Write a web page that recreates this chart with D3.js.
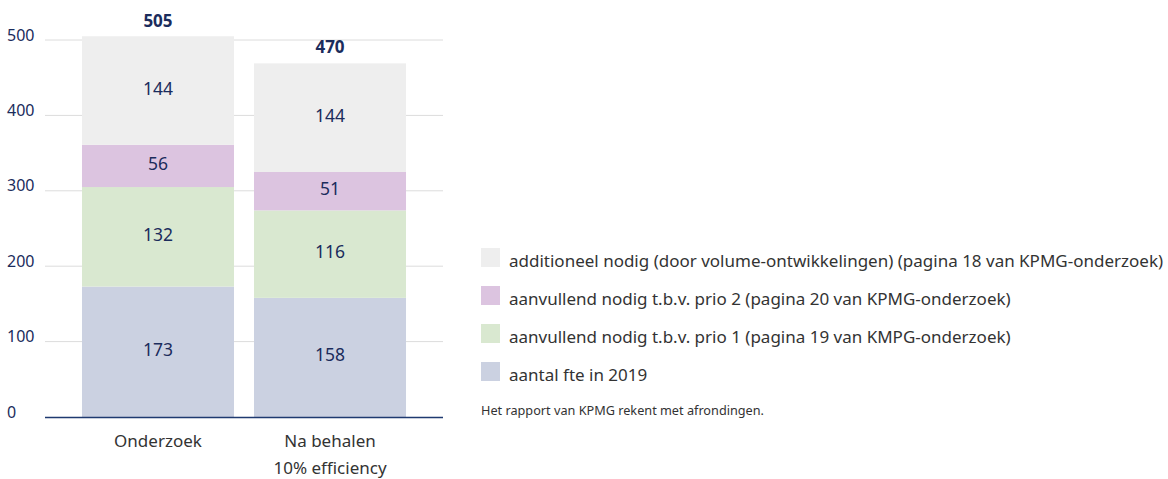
<!DOCTYPE html>
<html><head><meta charset="utf-8">
<script src="https://cdn.jsdelivr.net/npm/d3@7"></script>
<style>body{margin:0;background:#fff;} svg{display:block;font-family:"Noto Sans",sans-serif;}</style>
</head><body>
<svg id="c" width="1168" height="479"></svg>
<script>
const categories = ["Onderzoek", "Na behalen\n10% efficiency"];
const seriesNames = [
  "aantal fte in 2019",
  "aanvullend nodig t.b.v. prio 1 (pagina 19 van KMPG-onderzoek)",
  "aanvullend nodig t.b.v. prio 2 (pagina 20 van KPMG-onderzoek)",
  "additioneel nodig (door volume-ontwikkelingen) (pagina 18 van KPMG-onderzoek)"
];
const fte2019 = [173, 158];
const prio1 = [132, 116];
const prio2 = [56, 51];
const additioneel = [144, 144];
const totals = [505, 470];
const yTicks = [0, 100, 200, 300, 400, 500];
const colors = ["#cbd1e1", "#d9e8d0", "#dcc4e0", "#eeeeee"];
const note = "Het rapport van KPMG rekent met afrondingen.";

const navy = "#1b2c5c";
const svg = d3.select("#c");
const x = d3.scaleBand().domain(categories).range([45, 443]).paddingInner(0.1163).paddingOuter(0.215);
const y = d3.scaleLinear().domain([0, 500]).range([417, 40]);

const series = [fte2019, prio1, prio2, additioneel];
const rows = categories.map((c, i) => {
  const o = {cat: c};
  series.forEach((s, k) => o["s" + k] = s[i]);
  return o;
});
const stack = d3.stack().keys(["s0", "s1", "s2", "s3"])(rows);

// grid
svg.append("g").selectAll("line").data(yTicks.filter(t => t > 0)).join("line")
  .attr("x1", 45).attr("x2", 443).attr("y1", d => y(d)).attr("y2", d => y(d))
  .attr("stroke", "#dcdcdc").attr("stroke-width", 1);

// y labels
svg.append("g").selectAll("text").data(yTicks).join("text")
  .attr("x", 7).attr("y", d => y(d) + 0.5).attr("fill", navy)
  .attr("font-size", 16).text(d => d);

// bars
stack.forEach((layer, k) => {
  const g = svg.append("g");
  g.selectAll("rect").data(layer).join("rect")
    .attr("x", d => x(d.data.cat)).attr("width", x.bandwidth())
    .attr("y", d => y(d[1])).attr("height", d => y(d[0]) - y(d[1]))
    .attr("fill", colors[k]);
  g.selectAll("text").data(layer).join("text")
    .attr("x", d => x(d.data.cat) + x.bandwidth() / 2)
    .attr("y", d => y((d[0] + d[1]) / 2) + 4)
    .attr("text-anchor", "middle").attr("fill", navy).attr("font-size", 17.5)
    .text(d => d[1] - d[0]);
});

// axis line
svg.append("line").attr("x1", 45).attr("x2", 443).attr("y1", y(0) + 0.5).attr("y2", y(0) + 0.5)
  .attr("stroke", "#1f3a70").attr("stroke-width", 1.5);

// totals
svg.append("g").selectAll("text").data(categories).join("text")
  .attr("x", d => x(d) + x.bandwidth() / 2)
  .attr("y", (d, i) => y(totals[i]) - 9.5)
  .attr("text-anchor", "middle").attr("fill", navy).attr("font-size", 17).attr("font-weight", "bold")
  .text((d, i) => totals[i]);

// x labels
categories.forEach(c => {
  const t = svg.append("text").attr("x", x(c) + x.bandwidth() / 2).attr("y", 447)
    .attr("text-anchor", "middle").attr("fill", "#333").attr("font-size", 17);
  c.split("\n").forEach((line, i) => t.append("tspan").attr("x", x(c) + x.bandwidth() / 2).attr("dy", i ? 27 : 0).text(line));
});

// legend (top to bottom: reverse order)
const legendOrder = [3, 2, 1, 0];
const lg = svg.append("g");
legendOrder.forEach((k, i) => {
  const top = 248 + i * 38;
  lg.append("rect").attr("x", 481).attr("y", top).attr("width", 19).attr("height", 19).attr("fill", colors[k]);
  lg.append("text").attr("x", 509).attr("y", top + 19).attr("fill", "#333").attr("font-size", 17).text(seriesNames[k]);
});
svg.append("text").attr("x", 481).attr("y", 415).attr("fill", "#333").attr("font-size", 12.7).text(note);
</script>
</body></html>
